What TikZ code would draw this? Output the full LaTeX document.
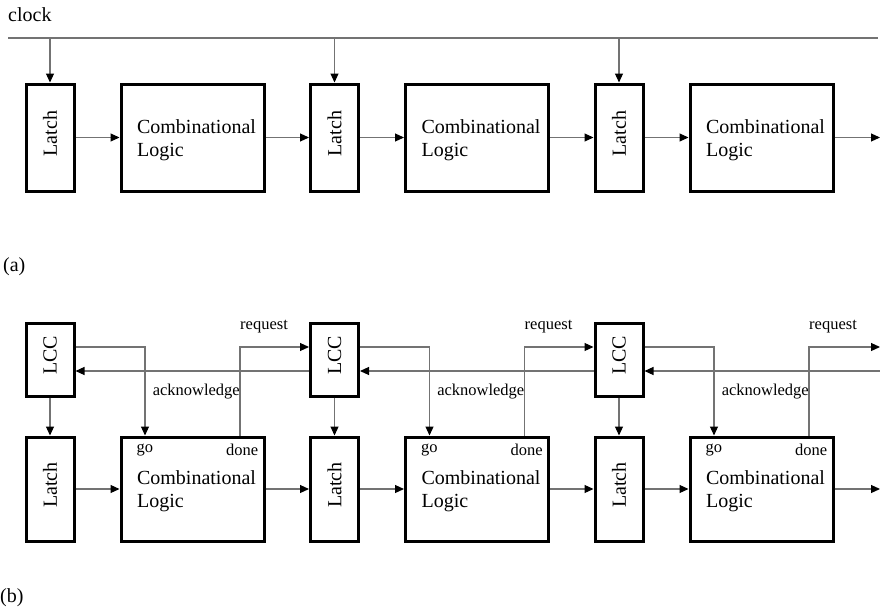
\documentclass[tikz,border=0pt]{standalone}
\usepackage{fontspec}
\setmainfont{Liberation Serif}
\usetikzlibrary{arrows.meta,calc}
\begin{document}
\begin{tikzpicture}[x=1pt,y=-1pt,
  blk/.style={draw=black, line width=3pt, inner sep=0pt, fill=white},
  latchbox/.style={blk, minimum width=48pt, minimum height=106pt,
    label={[yshift=4pt, rotate=90, big]center:Latch}},
  lccbox/.style={blk, minimum width=48pt, minimum height=73pt,
    label={[yshift=4pt, rotate=90, big]center:LCC}},
  logicbox/.style={blk, minimum width=143pt, minimum height=106pt,
    label={[align=left, big, xshift=4pt, yshift=-2.5pt]center:Combinational\\Logic}},
  wire/.style={draw=black!55, line width=1.1pt},
  sig/.style={wire, -{Triangle[length=9pt,width=8pt,color=black,fill=black]}},
  big/.style={font=\fontsize{20}{23}\selectfont},
  small/.style={font=\fontsize{16.5}{19}\selectfont},
  txt/.style={inner sep=0pt},
]
\path[use as bounding box] (0,0) rectangle (880,610);

% ---------- (a) clocked pipeline ----------
\node[txt, big, anchor=base west] (clk) at (8,22) {clock};
\coordinate (clkL) at (8,38);
\coordinate (clkR) at (878,38);
\draw[wire] (clkL) -- (clkR);

\foreach \i [evaluate=\i as \x using (\i-1)*284.5] in {1,2,3} {
  \node[latchbox, minimum height=107pt] (la\i) at (50+\x,137.5) {};
  \node[logicbox, minimum height=107pt] (ca\i) at (192.5+\x,137.5) {};
  \draw[sig] (la\i.north |- clkL) -- (la\i.north);
  \draw[sig] (la\i.east) -- (ca\i.west);
}
\coordinate (outa) at (880,137.5);
\draw[sig] (ca1.east) -- (la2.west);
\draw[sig] (ca2.east) -- (la3.west);
\draw[sig] (ca3.east) -- (outa);

\node[txt, big, anchor=base west] (lbla) at (3,271) {(a)};

% ---------- (b) self-timed pipeline ----------
\foreach \i [evaluate=\i as \x using (\i-1)*284.5] in {1,2,3} {
  \node[lccbox] (lc\i) at (50+\x,359.5) {};
  \node[latchbox, minimum height=104pt] (lb\i) at (50+\x,489) {};
  \node[logicbox, minimum height=104pt] (cb\i) at (192.5+\x,489) {};
  \coordinate (go\i) at (145+\x,347);
  \coordinate (rq\i) at (240+\x,347);
  \coordinate (ak\i) at (240+\x,371);
  % go: LCC starts the logic block
  \draw[sig] (lc\i.east |- go\i) -| (go\i |- cb\i.north);
  % LCC enables its latch
  \draw[sig] (lc\i.south) -- (lb\i.north);
  \draw[sig] (lb\i.east) -- (cb\i.west);
  \node[txt, small, anchor=base west] (go\i lbl) at ($(cb\i.north west)+(17,17)$) {go};
  \node[txt, small, anchor=base east] (dn\i lbl) at ($(cb\i.north east)+(-7,20)$) {done};
  \node[txt, small, anchor=base west] (rq\i lbl) at ($(rq\i)+(0,-18)$) {request};
  \node[txt, small, anchor=base east] (ak\i lbl) at ($(ak\i)+(0,24)$) {acknowledge};
}

\coordinate (rqout) at (880,347);
\coordinate (akin) at (880,371);
\coordinate (outb) at (880,489);

% request / acknowledge handshakes
\draw[sig] (rq1 |- cb1.north) |- (lc2.west |- rq1);
\draw[sig] (rq2 |- cb2.north) |- (lc3.west |- rq2);
\draw[sig] (rq3 |- cb3.north) |- (rqout);
\draw[sig] (lc2.west |- ak1) -- (lc1.east |- ak1);
\draw[sig] (lc3.west |- ak2) -- (lc2.east |- ak2);
\draw[sig] (akin) -- (lc3.east |- akin);

% data path
\draw[sig] (cb1.east) -- (lb2.west);
\draw[sig] (cb2.east) -- (lb3.west);
\draw[sig] (cb3.east) -- (outb);

\node[txt, big, anchor=base west] (lblb) at (0,602) {(b)};
\end{tikzpicture}
\end{document}
